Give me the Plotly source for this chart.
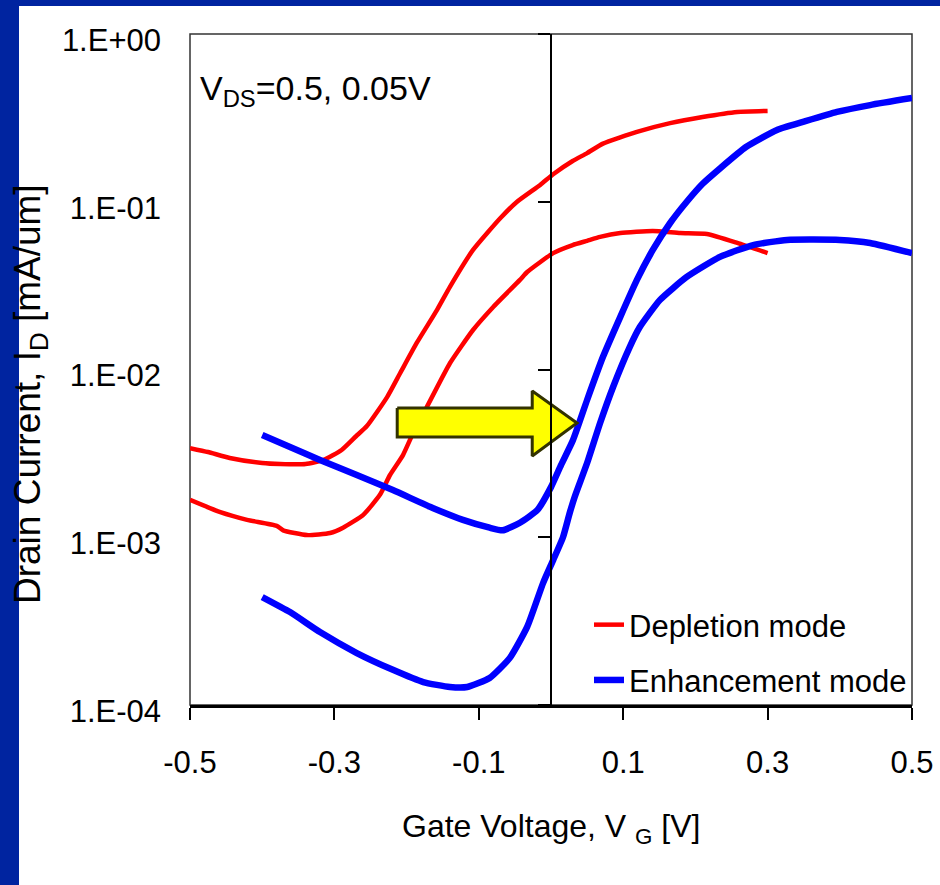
import plotly.graph_objects as go

# Gate voltage sweeps (V) and drain current (mA/um)
dep_vg_hi = [-0.5, -0.475, -0.445, -0.40, -0.375, -0.34, -0.315, -0.29, -0.27, -0.255,
             -0.227, -0.209, -0.186, -0.158, -0.14, -0.108, -0.07, -0.047, -0.015, 0.003,
             0.03, 0.05, 0.072, 0.119, 0.165, 0.21, 0.258, 0.3]
dep_id_hi = [3.40e-3, 3.22e-3, 2.97e-3, 2.77e-3, 2.73e-3, 2.73e-3, 2.89e-3, 3.31e-3, 4.0e-3, 4.6e-3,
             6.85e-3, 9.5e-3, 1.44e-2, 2.26e-2, 3.11e-2, 5.16e-2, 8.0e-2, 0.100, 0.126, 0.146,
             0.175, 0.195, 0.222, 0.261, 0.294, 0.320, 0.343, 0.348]

dep_vg_lo = [-0.5, -0.458, -0.421, -0.38, -0.371, -0.338, -0.306, -0.288, -0.26, -0.237,
             -0.223, -0.205, -0.191, -0.172, -0.14, -0.108, -0.08, -0.043, -0.033, 0.003,
             0.03, 0.05, 0.068, 0.096, 0.141, 0.179, 0.216, 0.258, 0.3]
dep_id_lo = [1.67e-3, 1.41e-3, 1.27e-3, 1.17e-3, 1.10e-3, 1.03e-3, 1.06e-3, 1.14e-3, 1.36e-3, 1.79e-3,
             2.35e-3, 3.09e-3, 4.18e-3, 5.97e-3, 1.09e-2, 1.72e-2, 2.36e-2, 3.42e-2, 3.81e-2, 4.94e-2,
             5.52e-2, 5.85e-2, 6.17e-2, 6.51e-2, 6.70e-2, 6.51e-2, 6.42e-2, 5.68e-2, 4.94e-2]

enh_vg_hi = [-0.4, -0.3615, -0.32, -0.269, -0.219, -0.163, -0.122, -0.085, -0.067, -0.043,
             -0.019, 0.0, 0.014, 0.0305, 0.05, 0.072, 0.096, 0.119, 0.141, 0.165,
             0.188, 0.21, 0.234, 0.27, 0.313, 0.349, 0.396, 0.442, 0.5]
enh_id_hi = [4.07e-3, 3.45e-3, 2.89e-3, 2.35e-3, 1.91e-3, 1.49e-3, 1.27e-3, 1.14e-3, 1.10e-3, 1.22e-3,
             1.45e-3, 1.99e-3, 2.7e-3, 3.80e-3, 6.58e-3, 1.19e-2, 2.06e-2, 3.42e-2, 5.16e-2, 7.47e-2,
             0.100, 0.128, 0.158, 0.212, 0.268, 0.299, 0.343, 0.377, 0.415]

enh_vg_lo = [-0.4, -0.3615, -0.32, -0.269, -0.219, -0.177, -0.14, -0.116, -0.085, -0.057,
             -0.033, -0.011, 0.003, 0.0166, 0.026, 0.033, 0.05, 0.068, 0.086, 0.109,
             0.123, 0.151, 0.188, 0.234, 0.28, 0.327, 0.40, 0.442, 0.5]
enh_id_lo = [4.40e-4, 3.58e-4, 2.72e-4, 2.04e-4, 1.62e-4, 1.37e-4, 1.28e-4, 1.28e-4, 1.45e-4, 1.91e-4,
             2.92e-4, 5.33e-4, 7.31e-4, 1.00e-3, 1.40e-3, 1.75e-3, 2.77e-3, 4.80e-3, 7.87e-3, 1.36e-2,
             1.79e-2, 2.60e-2, 3.56e-2, 4.69e-2, 5.52e-2, 5.92e-2, 5.92e-2, 5.68e-2, 4.94e-2]

# Shift arrow outline (gate voltage, drain current)
arrow_vg = [-0.213, -0.026, -0.026, 0.036, -0.026, -0.026, -0.213, -0.213]
arrow_id = [5.9e-3, 5.9e-3, 7.45e-3, 4.8e-3, 3.05e-3, 3.96e-3, 3.96e-3, 5.9e-3]

x_ticks = [-0.5, -0.3, -0.1, 0.1, 0.3, 0.5]
x_tick_text = ["-0.5", "-0.3", "-0.1", "0.1", "0.3", "0.5"]
y_ticks = [1, 1e-1, 1e-2, 1e-3, 1e-4]
y_tick_text = ["1.E+00", "1.E-01", "1.E-02", "1.E-03", "1.E-04"]

FONT = "Liberation Sans, Arial, sans-serif"
RED = "#FF0000"
BLUE = "#0000FF"
FRAME = "#0024A0"

W, H = 940, 885
ML, MR, MT, MB = 190, 28, 34, 180
PW, PH = W - ML - MR, H - MT - MB


def px(x):
    return (x - ML) / PW


def py(y):
    return (H - MB - y) / PH


def curve(x, y, name, group, color, width, show):
    return go.Scatter(x=x, y=y, mode="lines", name=name, legendgroup=group,
                      showlegend=show,
                      line=dict(color=color, width=width, shape="spline", smoothing=0.5))


fig = go.Figure()
fig.add_trace(curve(dep_vg_hi, dep_id_hi, "Depletion mode", "dep", RED, 4.5, True))
fig.add_trace(curve(dep_vg_lo, dep_id_lo, "Depletion mode", "dep", RED, 4.5, False))
fig.add_trace(curve(enh_vg_hi, enh_id_hi, "Enhancement mode", "enh", BLUE, 6.5, True))
fig.add_trace(curve(enh_vg_lo, enh_id_lo, "Enhancement mode", "enh", BLUE, 6.5, False))
fig.add_trace(go.Scatter(x=arrow_vg, y=arrow_id, mode="lines", fill="toself",
                         fillcolor="#FFFF00", line=dict(color="#333300", width=3),
                         showlegend=False, hoverinfo="skip"))
# carrier for the axis drawn at V_G = 0
fig.add_trace(go.Scatter(x=[None], y=[None], yaxis="y2", showlegend=False, hoverinfo="skip"))

fig.update_layout(
    width=W, height=H,
    margin=dict(l=ML, r=MR, t=MT, b=MB, autoexpand=False),
    paper_bgcolor="white", plot_bgcolor="white",
    showlegend=True,
    legend=dict(x=px(589), y=py(598), xanchor="left", yanchor="top",
                bgcolor="rgba(0,0,0,0)", tracegroupgap=12,
                font=dict(family=FONT, size=31, color="black")),
    xaxis=dict(range=[-0.5, 0.5], tickvals=x_ticks, ticktext=x_tick_text,
               showgrid=False, zeroline=False,
               showline=True, linecolor="black", linewidth=3,
               ticks="outside", ticklen=12, tickwidth=1.5, tickcolor="black",
               ticklabelstandoff=16,
               tickfont=dict(family=FONT, size=31, color="black")),
    yaxis=dict(type="log", range=[-4, 0], tickvals=y_ticks, ticktext=y_tick_text,
               showgrid=False, zeroline=False, showline=False, ticks="",
               ticklabelstandoff=28, ticklabelshift=6,
               tickfont=dict(family=FONT, size=31, color="black")),
    yaxis2=dict(type="log", range=[-4, 0], overlaying="y", anchor="free", position=0.5,
                side="left", tickvals=y_ticks, showticklabels=False,
                showgrid=False, zeroline=False,
                showline=True, linecolor="black", linewidth=1.5,
                ticks="outside", ticklen=12, tickwidth=1.5, tickcolor="black"),
    shapes=[
        dict(type="rect", xref="paper", yref="paper", x0=0, x1=1, y0=0, y1=1,
             line=dict(color="#333333", width=1.5), layer="below"),
        dict(type="rect", xref="paper", yref="paper", x0=px(0), x1=px(19), y0=py(H), y1=py(0),
             fillcolor=FRAME, line=dict(width=0), layer="below"),
        dict(type="rect", xref="paper", yref="paper", x0=px(0), x1=px(W), y0=py(6), y1=py(0),
             fillcolor=FRAME, line=dict(width=0), layer="below"),
    ],
    annotations=[
        dict(text="V<sub>DS</sub>=0.5, 0.05V", xref="paper", yref="paper",
             x=px(198), y=py(67), xanchor="left", yanchor="top", showarrow=False,
             font=dict(family=FONT, size=34, color="black")),
        dict(text="Drain Current, I<sub>D</sub> [mA/um]", xref="paper", yref="paper",
             x=px(30), y=py(394), xanchor="center", yanchor="middle", textangle=-90,
             showarrow=False, font=dict(family=FONT, size=37, color="black")),
        dict(text="Gate Voltage, V <sub>G</sub> [V]", xref="paper", yref="paper",
             x=0.5, y=py(828), xanchor="center", yanchor="middle", showarrow=False,
             font=dict(family=FONT, size=32, color="black")),
    ],
)

fig.write_html("out.html")
